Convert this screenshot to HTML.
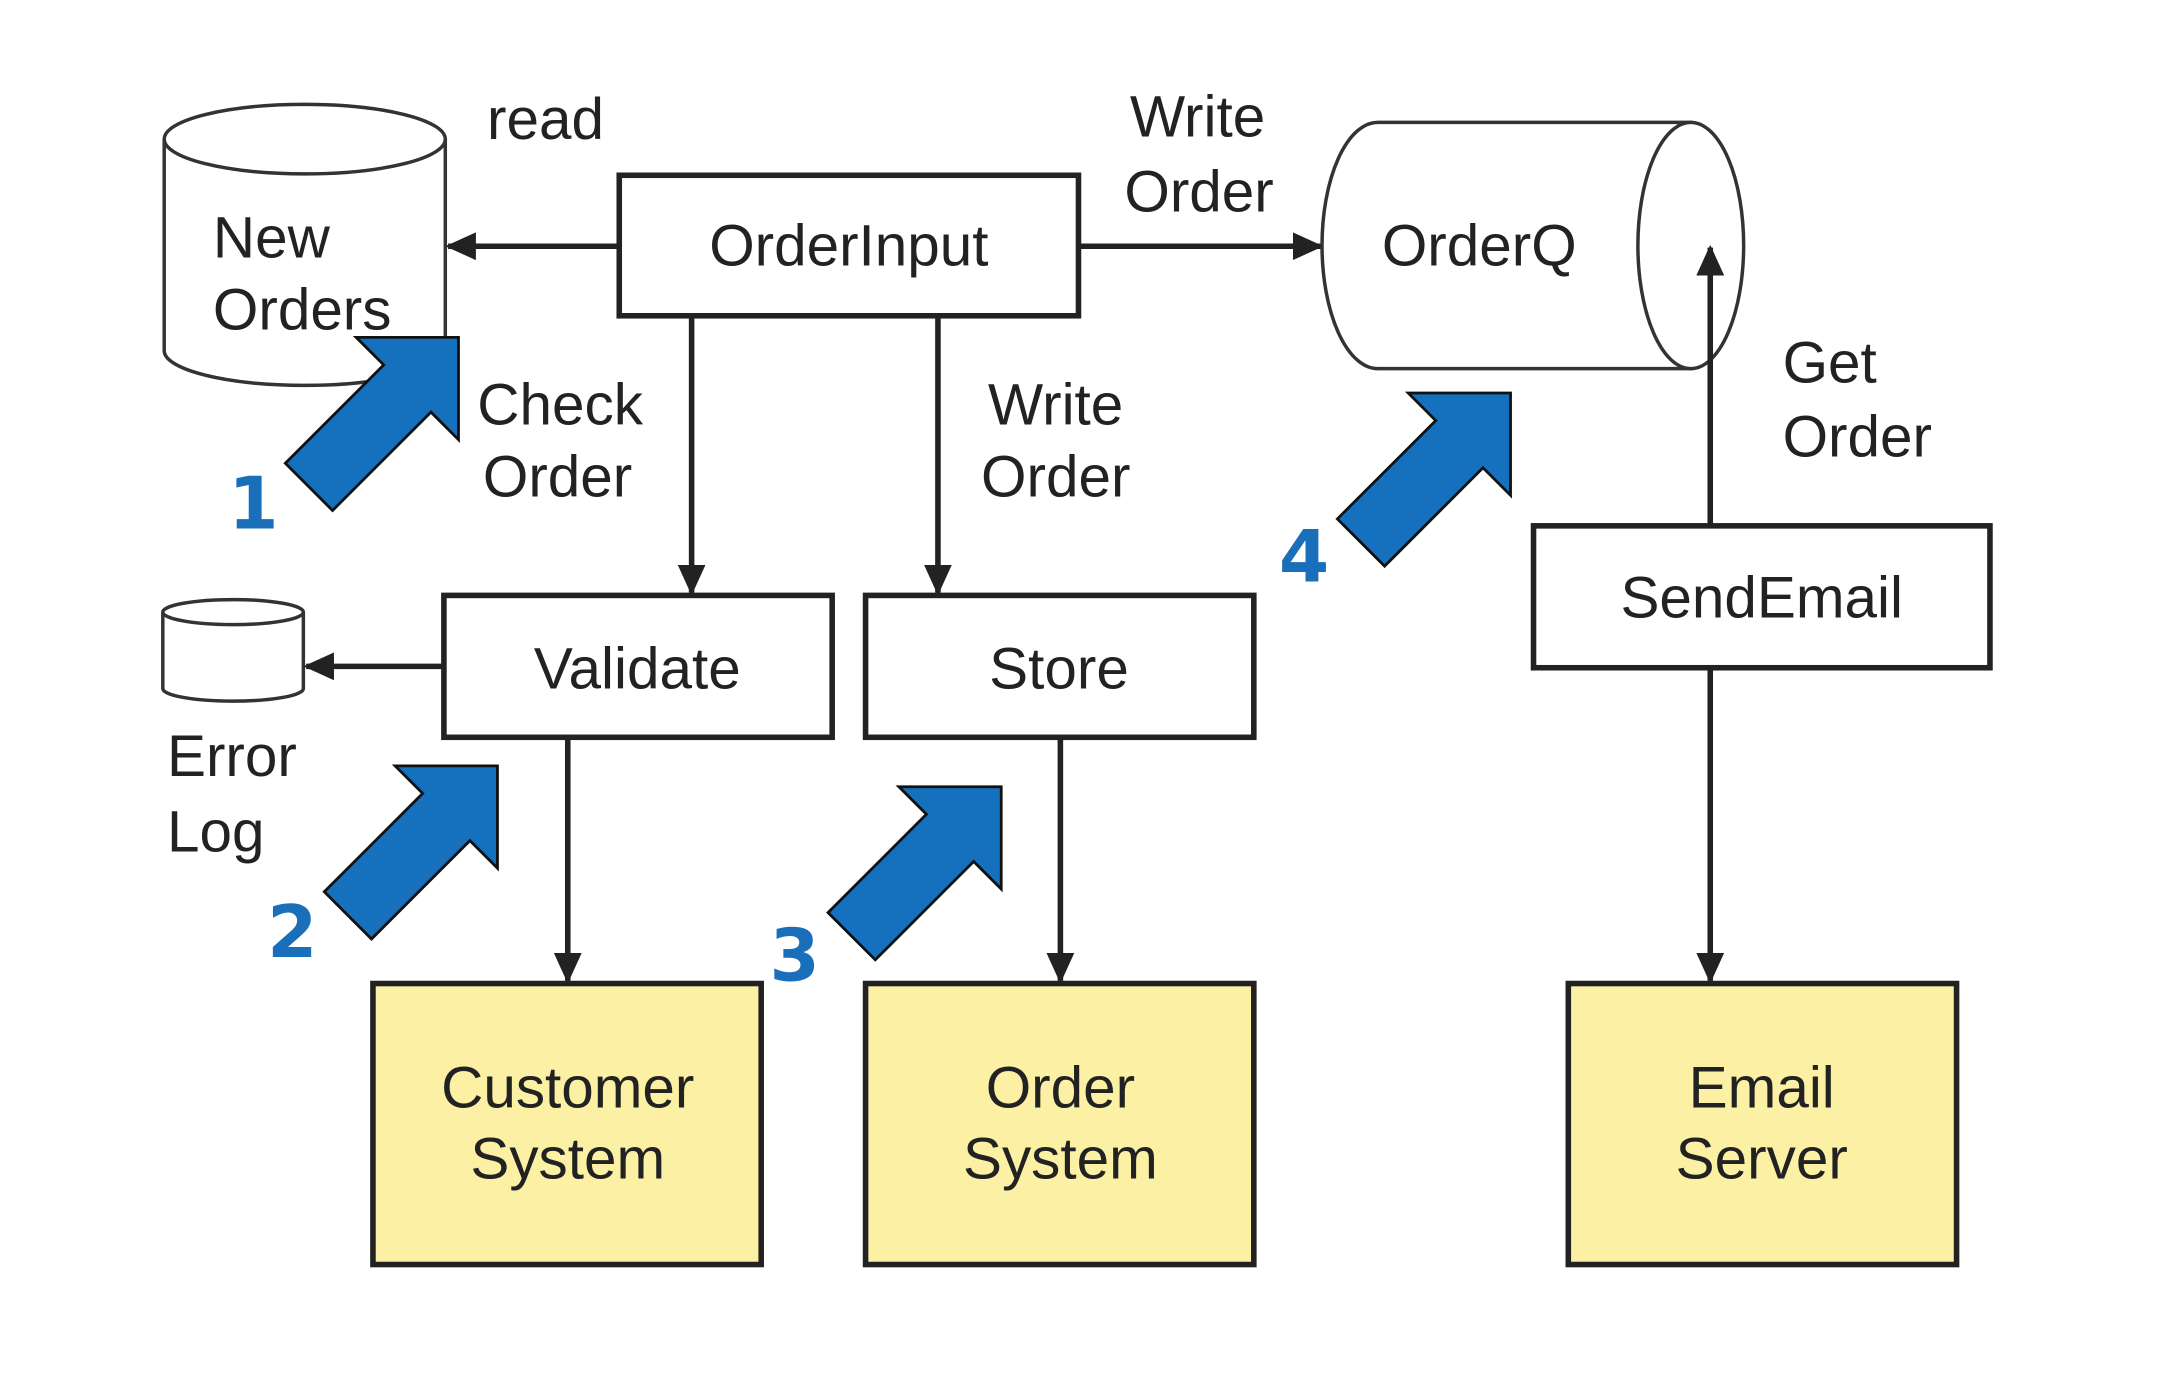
<!DOCTYPE html>
<html><head><style>html,body{margin:0;padding:0;background:#fff}svg{display:block}</style></head><body>
<svg width="2182" height="1380" viewBox="0 0 1568 992" preserveAspectRatio="none" xmlns="http://www.w3.org/2000/svg">
<defs>
<marker id="ah" markerWidth="22" markerHeight="20" refX="20" refY="10" orient="auto" markerUnits="userSpaceOnUse" viewBox="0 0 22 20">
<path d="M0,0 L22,10 L0,20 z" fill="#222"/></marker>
<g id="barrow"><path d="M0,-24 L100,-24 L100,-52 L152,0 L100,52 L100,24 L0,24 z" fill="#1570be" stroke="#111" stroke-width="2"/></g>
</defs>
<g font-family="Liberation Sans, sans-serif" font-size="42" fill="#222">
<path d="M118,100 L118,252 A101,25 0 0 0 320,252 L320,100" fill="#fff" stroke="#333" stroke-width="2.5"/>
<ellipse cx="219" cy="100" rx="101" ry="25" fill="#fff" stroke="#333" stroke-width="2.5"/>
<text x="153" y="185">New</text><text x="153" y="237">Orders</text>
<text x="350" y="100">read</text>
<rect x="445" y="126" width="330" height="101" fill="#fff" stroke="#222" stroke-width="4"/>
<text x="610" y="191" text-anchor="middle">OrderInput</text>
<line x1="445" y1="177" x2="322" y2="177" stroke="#222" stroke-width="4" marker-end="url(#ah)"/>
<line x1="775" y1="177" x2="949" y2="177" stroke="#222" stroke-width="4" marker-end="url(#ah)"/>
<text x="812" y="98">Write</text><text x="808" y="152">Order</text>
<path d="M990,88 L1215,88 L1215,265 L990,265 A40,88.5 0 0 1 990,88 z" fill="#fff" stroke="#333" stroke-width="2.5"/>
<ellipse cx="1215" cy="176.5" rx="38" ry="88.5" fill="#fff" stroke="#333" stroke-width="2.5"/>
<text x="993" y="191">OrderQ</text>
<line x1="1229" y1="378" x2="1229" y2="178" stroke="#222" stroke-width="4" marker-end="url(#ah)"/>
<text x="1281" y="275">Get</text><text x="1281" y="328">Order</text>
<rect x="1102" y="378" width="328" height="102" fill="#fff" stroke="#222" stroke-width="4"/>
<text x="1266" y="444" text-anchor="middle">SendEmail</text>
<line x1="1229" y1="480" x2="1229" y2="705" stroke="#222" stroke-width="4" marker-end="url(#ah)"/>
<rect x="1127" y="707" width="279" height="202" fill="#fcf0a4" stroke="#222" stroke-width="4"/>
<text x="1266" y="796" text-anchor="middle">Email</text><text x="1266" y="847" text-anchor="middle">Server</text>
<line x1="497" y1="227" x2="497" y2="426" stroke="#222" stroke-width="4" marker-end="url(#ah)"/>
<line x1="674" y1="227" x2="674" y2="426" stroke="#222" stroke-width="4" marker-end="url(#ah)"/>
<text x="343" y="305">Check</text><text x="347" y="357">Order</text>
<text x="710" y="305">Write</text><text x="705" y="357">Order</text>
<rect x="319" y="428" width="279" height="102" fill="#fff" stroke="#222" stroke-width="4"/>
<text x="458" y="495" text-anchor="middle">Validate</text>
<rect x="622" y="428" width="279" height="102" fill="#fff" stroke="#222" stroke-width="4"/>
<text x="761" y="495" text-anchor="middle">Store</text>
<path d="M117,440 L117,495 A50.5,9 0 0 0 218,495 L218,440" fill="#fff" stroke="#333" stroke-width="2.5"/>
<ellipse cx="167.5" cy="440" rx="50.5" ry="9" fill="#fff" stroke="#333" stroke-width="2.5"/>
<line x1="319" y1="479" x2="220" y2="479" stroke="#222" stroke-width="4" marker-end="url(#ah)"/>
<text x="120" y="558">Error</text><text x="120" y="612">Log</text>
<line x1="408" y1="530" x2="408" y2="705" stroke="#222" stroke-width="4" marker-end="url(#ah)"/>
<line x1="762" y1="530" x2="762" y2="705" stroke="#222" stroke-width="4" marker-end="url(#ah)"/>
<rect x="268" y="707" width="279" height="202" fill="#fcf0a4" stroke="#222" stroke-width="4"/>
<text x="408" y="796" text-anchor="middle">Customer</text><text x="408" y="847" text-anchor="middle">System</text>
<rect x="622" y="707" width="279" height="202" fill="#fcf0a4" stroke="#222" stroke-width="4"/>
<text x="762" y="796" text-anchor="middle">Order</text><text x="762" y="847" text-anchor="middle">System</text>
</g>
<use href="#barrow" transform="translate(222,350) rotate(-45)"/>
<use href="#barrow" transform="translate(250,658) rotate(-45)"/>
<use href="#barrow" transform="translate(612,673) rotate(-45)"/>
<use href="#barrow" transform="translate(978,390) rotate(-45)"/>
<g font-family="DejaVu Sans, sans-serif" font-weight="bold" font-size="52" fill="#1a6fba">
<text x="164" y="380">1</text><text x="192" y="688">2</text><text x="553" y="705">3</text><text x="919" y="418">4</text>
</g>
</svg>
</body></html>
